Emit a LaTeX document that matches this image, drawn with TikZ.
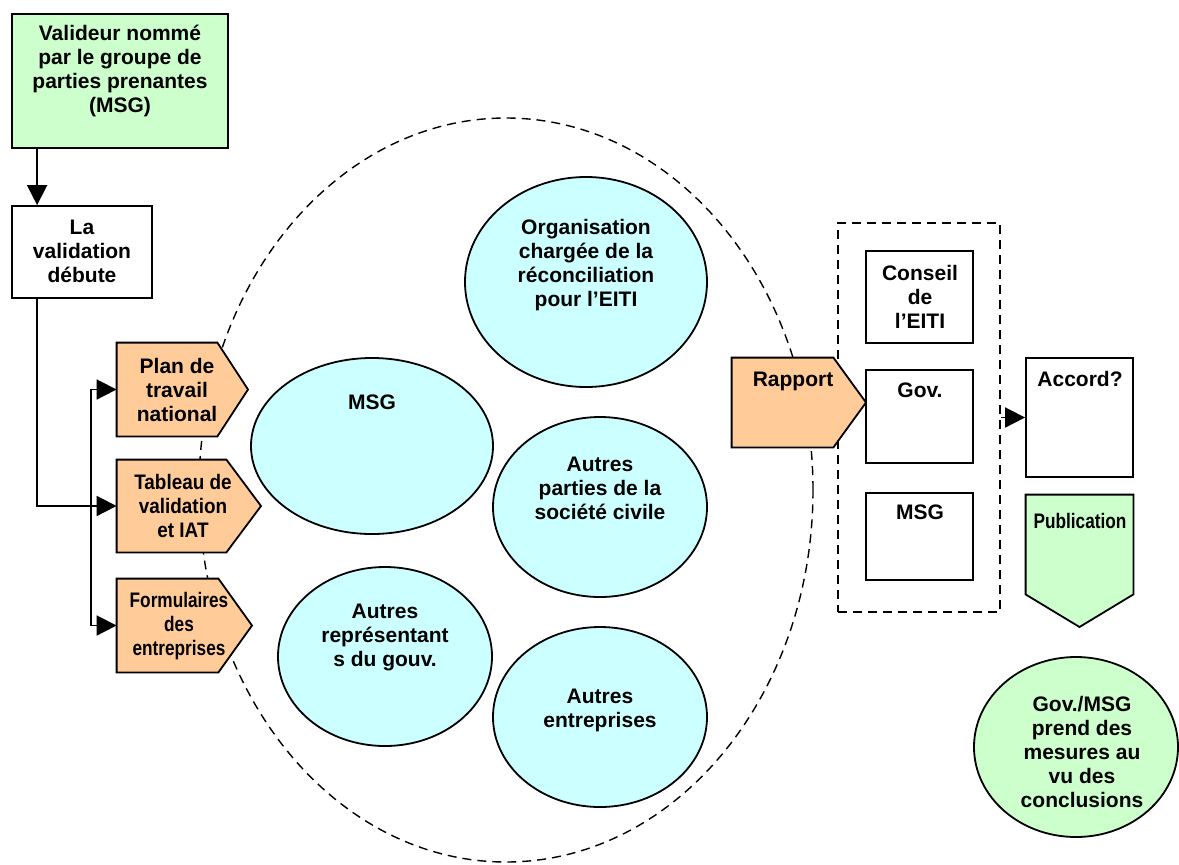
\documentclass[tikz,border=0pt]{standalone}
\usepackage{fontspec}
\setmainfont{Liberation Sans}
\newfontfamily\condA{Liberation Sans}[FakeStretch=0.82]
\newfontfamily\condB{Liberation Sans}[FakeStretch=0.9]
\usetikzlibrary{shapes.geometric,arrows.meta}
\definecolor{lgreen}{HTML}{CCFFCC}
\definecolor{peach}{HTML}{FFCC99}
\definecolor{lcyan}{HTML}{CCFFFF}
\begin{document}
\begin{tikzpicture}[x=0.5pt,y=-0.5pt,
  txt/.style={font=\bfseries\fontsize{10.5}{12}\selectfont, align=center, inner sep=0pt},
  txtA/.style={font=\condA\bfseries\fontsize{10.5}{12.2}\selectfont, align=center, inner sep=0pt},
  txtB/.style={font=\condB\bfseries\fontsize{10.5}{12}\selectfont, align=center, inner sep=0pt},
  box/.style={draw, line width=0.9pt, inner sep=0pt, shape=rectangle},
  ln/.style={draw, line width=0.9pt},
  oval/.style={draw, line width=0.9pt, shape=ellipse, inner sep=0pt, fill=lcyan},
  hold/.style={inner sep=0pt, shape=rectangle},
  arr/.style={line width=0.9pt, -{Triangle[length=10pt,width=10pt]}},
  dsh/.style={line width=0.7pt, dash pattern=on 4.5pt off 3pt}]

\useasboundingbox (0,0) rectangle (1179,864);

% big dashed ellipse
\node[draw, dsh, shape=ellipse, inner sep=0pt, minimum width=307pt, minimum height=372pt] (big) at (506,490) {};

% top-left boxes
\node[box, fill=lgreen, minimum width=108pt, minimum height=67pt] (valid) at (120,81) {};
\node[txt] (validT) at (120,71) {Valideur nommé\\par le groupe de\\parties prenantes\\(MSG)};
\node[box, fill=white, minimum width=70pt, minimum height=46pt] (lav) at (82,252) {};
\node[txt] (lavT) at (82,251) {La\\validation\\débute};

% pentagons on the left
\node[hold, minimum width=50pt, minimum height=46.5pt] (plan) at (167,389.5) {};
\coordinate (planTip) at (248,389.5);
\draw[ln, fill=peach] (plan.north west) -- (plan.north east) -- (planTip) -- (plan.south east) -- (plan.south west) -- cycle;
\node[txt] (planT) at (177,390) {Plan de\\travail\\national};

\node[hold, minimum width=54.5pt, minimum height=46pt] (tab) at (171.5,506) {};
\coordinate (tabTip) at (261,506);
\draw[ln, fill=peach] (tab.north west) -- (tab.north east) -- (tabTip) -- (tab.south east) -- (tab.south west) -- cycle;
\node[txtB] (tabT) at (183,506) {Tableau de\\validation\\et IAT};

\node[hold, minimum width=50.5pt, minimum height=46.5pt] (form) at (167.5,625.5) {};
\coordinate (formTip) at (252,625.5);
\draw[ln, fill=peach] (form.north west) -- (form.north east) -- (formTip) -- (form.south east) -- (form.south west) -- cycle;
\node[txtA] (formT) at (179,626) {Formulaires\\des\\entreprises};

% connectors on the left
\draw[arr] ([xshift=13pt]valid.south west) -- ([xshift=13pt]lav.north west);
\draw[arr] ([xshift=13pt]lav.south west) |- (tab.west);
\coordinate (bus) at (91,506);
\draw[arr] (bus) |- (plan.west);
\draw[arr] (bus) |- (form.west);

% cyan ellipses
\node[oval, minimum width=121pt, minimum height=105pt] (org) at (586,282) {};
\node[txt] (orgT) at (586,265) {Organisation\\chargée de la\\réconciliation\\pour l’EITI};
\node[oval, minimum width=121pt, minimum height=88pt] (msg) at (372,446) {};
\node[txt, anchor=base] (msgT) at (372,409) {MSG};
\node[oval, minimum width=107pt, minimum height=90pt] (apc) at (600,507) {};
\node[txt] (apcT) at (600,488) {Autres\\parties de la\\société civile};
\node[oval, minimum width=107pt, minimum height=89.5pt] (arg) at (385,656.5) {};
\node[txt] (argT) at (385,637) {Autres\\représentant\\s du gouv.};
\node[oval, minimum width=107pt, minimum height=90pt] (ae) at (600,717) {};
\node[txt] (aeT) at (600,710) {Autres\\entreprises};

% right part
\node[draw, dsh, hold, minimum width=81pt, minimum height=194.5pt] (drect) at (919,417.5) {};
\node[box, fill=white, minimum width=53.5pt, minimum height=46pt] (cons) at (919.5,297) {};
\node[txt] (consT) at (920,297) {Conseil\\de\\l’EITI};
\node[box, fill=white, minimum width=53.5pt, minimum height=46.5pt] (gov) at (919.5,416.5) {};
\node[txt, anchor=base] (govT) at (920,397) {Gov.};
\node[box, fill=white, minimum width=53.5pt, minimum height=43.5pt] (msgb) at (919.5,536.5) {};
\node[txt, anchor=base] (msgbT) at (920,519) {MSG};

\node[hold, minimum width=50.5pt, minimum height=44.5pt] (rap) at (782.5,402.5) {};
\coordinate (rapTip) at (866,402.5);
\draw[ln, fill=peach] (rap.north west) -- (rap.north east) -- (rapTip) -- (rap.south east) -- (rap.south west) -- cycle;
\node[txt, anchor=base] (rapT) at (793,386) {Rapport};

\node[box, fill=white, minimum width=53.5pt, minimum height=59.5pt] (acc) at (1079.5,417.5) {};
\node[txt, anchor=base] (accT) at (1080,386) {Accord?};
\draw[arr] (drect.east) -- (acc.west);

\node[hold, minimum width=53.5pt, minimum height=49.5pt] (pub) at (1079.5,544.5) {};
\coordinate (pubTip) at (1079.5,627);
\draw[ln, fill=lgreen] (pub.north west) -- (pub.north east) -- (pub.south east) -- (pubTip) -- (pub.south west) -- cycle;
\node[txtA, anchor=base] (pubT) at (1080,528) {Publication};

\node[draw, line width=0.9pt, shape=ellipse, inner sep=0pt, fill=lgreen, minimum width=102pt, minimum height=90pt] (gm) at (1076,747) {};
\node[txt] (gmT) at (1082,752) {Gov./MSG\\prend des\\mesures au\\vu des\\conclusions};
\end{tikzpicture}
\end{document}
